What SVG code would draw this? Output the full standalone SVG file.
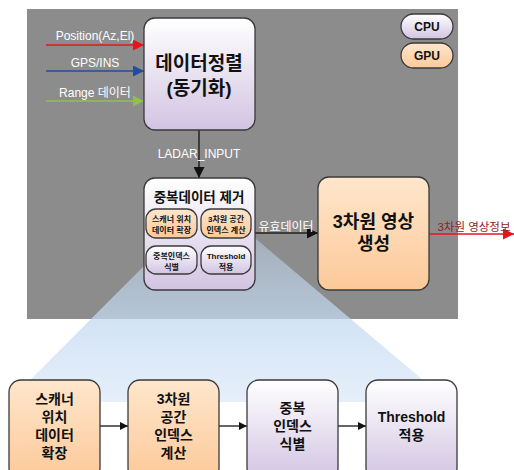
<svg xmlns="http://www.w3.org/2000/svg" width="514" height="470" viewBox="0 0 514 470">
<defs>
<linearGradient id="gPur" x1="0" y1="0" x2="0" y2="1"><stop offset="0" stop-color="#ffffff"/><stop offset="1" stop-color="#d2c4e2"/></linearGradient>
<linearGradient id="gOra" x1="0" y1="0" x2="0" y2="1"><stop offset="0" stop-color="#ffe6cc"/><stop offset="1" stop-color="#fcc999"/></linearGradient>
<linearGradient id="gBlue" x1="0" y1="0" x2="0" y2="1"><stop offset="0" stop-color="#c4daf2" stop-opacity="0.45"/><stop offset="0.5" stop-color="#c4daf2" stop-opacity="0.75"/><stop offset="1" stop-color="#dbe8f8" stop-opacity="0.7"/></linearGradient>
<marker id="aBlk" viewBox="0 0 10 10" refX="10" refY="5" markerWidth="8" markerHeight="8" markerUnits="userSpaceOnUse" orient="auto"><path d="M0,0L10,5L0,10z" fill="#111"/></marker>
<marker id="aBlkL" viewBox="0 0 10 10" refX="10" refY="5" markerWidth="11" markerHeight="11" markerUnits="userSpaceOnUse" orient="auto"><path d="M0,0L10,5L0,10z" fill="#111"/></marker>
<marker id="aRed" viewBox="0 0 10 10" refX="10" refY="5" markerWidth="11" markerHeight="11" markerUnits="userSpaceOnUse" orient="auto"><path d="M0,0L10,5L0,10z" fill="#e8141c"/></marker>
<marker id="aBlu" viewBox="0 0 10 10" refX="10" refY="5" markerWidth="11" markerHeight="11" markerUnits="userSpaceOnUse" orient="auto"><path d="M0,0L10,5L0,10z" fill="#1f4f9c"/></marker>
<marker id="aGrn" viewBox="0 0 10 10" refX="10" refY="5" markerWidth="11" markerHeight="11" markerUnits="userSpaceOnUse" orient="auto"><path d="M0,0L10,5L0,10z" fill="#8fc04c"/></marker>
<style>
.box{stroke:#3a3a3a;stroke-width:1.3}
.pur{fill:url(#gPur)}
.ora{fill:url(#gOra)}
.k{font-family:"Liberation Sans","Noto Sans CJK KR",sans-serif;font-weight:bold;fill:#111;text-anchor:middle}
.w{font-family:"Liberation Sans","Noto Sans CJK KR",sans-serif;fill:#ffffff;text-anchor:middle;font-size:12px}
.ln{fill:none;stroke-width:1.3}
</style>
</defs>
<rect x="27" y="9" width="431" height="310" fill="#8c8c8c"/>
<polygon points="171,239 256,239 423,380 449,402 8,402 33,377" fill="url(#gBlue)"/>
<g id="connectors">
<line class="ln" x1="46" y1="45" x2="144" y2="45" stroke="#e8141c" marker-end="url(#aRed)"/>
<line class="ln" x1="46" y1="71" x2="144" y2="71" stroke="#1f4f9c" marker-end="url(#aBlu)"/>
<line class="ln" x1="46" y1="101" x2="144" y2="101" stroke="#8fc04c" marker-end="url(#aGrn)"/>
<text class="w" x="95" y="40">Position(Az,El)</text>
<text class="w" x="95" y="67">GPS/INS</text>
<text class="w" x="95" y="97">Range 데이터</text>
<line class="ln" x1="199" y1="130" x2="199" y2="178" stroke="#111" marker-end="url(#aBlkL)"/>
<text class="w" x="199" y="158">LADAR_INPUT</text>
<line class="ln" x1="255" y1="233" x2="318" y2="233" stroke="#222" marker-end="url(#aBlkL)"/>
<text class="w" x="286" y="231">유효데이터</text>
<line class="ln" x1="429" y1="234" x2="514" y2="234" stroke="#e8141c" marker-end="url(#aRed)"/>
<text x="474" y="231" font-family="Liberation Sans,'Noto Sans CJK KR',sans-serif" font-size="11.5" fill="#8a2424" text-anchor="middle">3차원 영상정보</text>
<line class="ln" x1="100" y1="426" x2="128" y2="426" stroke="#111" marker-end="url(#aBlk)"/>
<line class="ln" x1="219" y1="426" x2="247" y2="426" stroke="#111" marker-end="url(#aBlk)"/>
<line class="ln" x1="338" y1="426" x2="366" y2="426" stroke="#111" marker-end="url(#aBlk)"/>
</g>
<g id="cpu"><rect class="box pur" x="401" y="14" width="52" height="25" rx="12.5"/><text class="k" x="427" y="31" font-size="12" font-weight="normal">CPU</text></g>
<g id="gpu"><rect class="box ora" x="401" y="43" width="52" height="25" rx="12.5"/><text class="k" x="427" y="60" font-size="12" font-weight="normal">GPU</text></g>
<g id="sync"><rect class="box pur" x="144" y="18" width="111" height="112" rx="11"/>
<text class="k" x="199" y="70" font-size="19">데이터정렬</text><text class="k" x="199" y="95" font-size="19">(동기화)</text></g>
<g id="dedup"><rect class="box pur" x="144" y="178" width="111" height="112" rx="11"/>
<text class="k" x="199" y="202" font-size="13.5">중복데이터 제거</text></g>
<g id="sub1"><rect class="box ora" x="146" y="209" width="51" height="29" rx="10"/><text class="k" x="171.5" y="222" font-size="8">스캐너 위치</text><text class="k" x="171.5" y="233" font-size="8">데이터 확장</text></g>
<g id="sub2"><rect class="box ora" x="201" y="209" width="50" height="29" rx="10"/><text class="k" x="226" y="222" font-size="8">3차원 공간</text><text class="k" x="226" y="233" font-size="8">인덱스 계산</text></g>
<g id="sub3"><rect class="box pur" x="146" y="246" width="51" height="28" rx="10"/><text class="k" x="171.5" y="259" font-size="8">중복인덱스</text><text class="k" x="171.5" y="270" font-size="8">식별</text></g>
<g id="sub4"><rect class="box pur" x="201" y="246" width="50" height="28" rx="10"/><text class="k" x="226" y="259" font-size="8">Threshold</text><text class="k" x="226" y="270" font-size="8">적용</text></g>
<g id="gen3d"><rect class="box ora" x="318" y="177" width="111" height="113" rx="11"/>
<text class="k" x="373.5" y="228" font-size="18">3차원 영상</text><text class="k" x="373.5" y="250" font-size="18">생성</text></g>
<g id="b1"><rect class="box ora" x="9" y="380" width="91" height="100" rx="12"/>
<text class="k" x="54.5" y="404" font-size="14">스캐너</text><text class="k" x="54.5" y="422" font-size="14">위치</text><text class="k" x="54.5" y="440" font-size="14">데이터</text><text class="k" x="54.5" y="458" font-size="14">확장</text></g>
<g id="b2"><rect class="box ora" x="128" y="380" width="91" height="100" rx="12"/>
<text class="k" x="173.5" y="404" font-size="14">3차원</text><text class="k" x="173.5" y="422" font-size="14">공간</text><text class="k" x="173.5" y="440" font-size="14">인덱스</text><text class="k" x="173.5" y="458" font-size="14">계산</text></g>
<g id="b3"><rect class="box pur" x="247" y="380" width="91" height="100" rx="12"/>
<text class="k" x="292.5" y="413" font-size="14">중복</text><text class="k" x="292.5" y="431" font-size="14">인덱스</text><text class="k" x="292.5" y="449" font-size="14">식별</text></g>
<g id="b4"><rect class="box pur" x="366" y="380" width="91" height="100" rx="12"/>
<text class="k" x="411.5" y="422" font-size="14">Threshold</text><text class="k" x="411.5" y="440" font-size="14">적용</text></g>
</svg>
